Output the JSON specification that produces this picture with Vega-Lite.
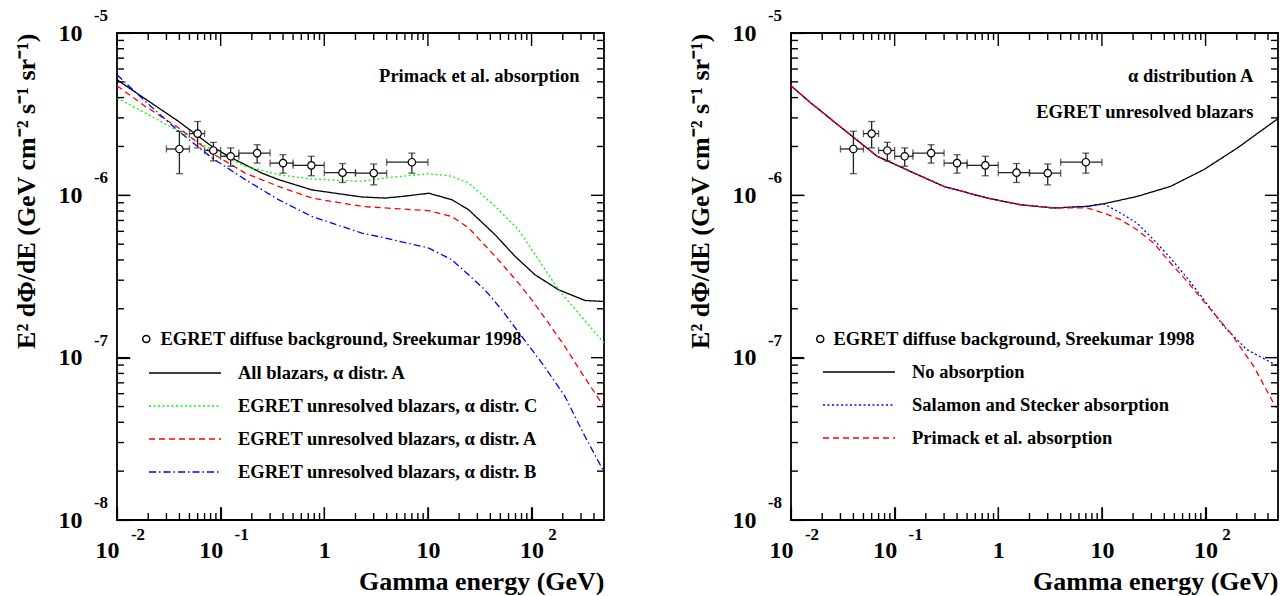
{
  "$schema": "https://vega.github.io/schema/vega-lite/v6.json",
  "padding": {"left": 12, "top": 6, "right": 5, "bottom": 0},
  "background": "white",
  "config": {
    "font": "Liberation Serif",
    "view": {"stroke": "black", "strokeWidth": 1.8},
    "axis": {"domain": false, "grid": false, "zindex": 1, "labelFont": "Liberation Serif", "labelFontWeight": "bold", "labelFontSize": 24, "labelColor": "black", "tickColor": "black", "tickWidth": 1.2, "titleFont": "Liberation Serif", "titleFontWeight": "bold", "titleFontSize": 26, "titleColor": "black", "labelOverlap": false, "labelFlush": false},
    "legend": {"labelFont": "Liberation Serif", "labelFontWeight": "bold", "labelFontSize": 18.5, "labelColor": "black", "labelLimit": 800, "padding": 0},
    "text": {"font": "Liberation Serif", "fontWeight": "bold", "color": "black"}
  },
  "datasets": {
    "egret": [
      {"src": "EGRET diffuse background, Sreekumar 1998", "x": 0.04, "xlo": 0.03, "xhi": 0.05, "y": 1.93e-6, "ylo": 1.36e-6, "yhi": 2.48e-6},
      {"src": "EGRET diffuse background, Sreekumar 1998", "x": 0.06, "xlo": 0.05, "xhi": 0.07, "y": 2.40e-6, "ylo": 1.96e-6, "yhi": 2.85e-6},
      {"src": "EGRET diffuse background, Sreekumar 1998", "x": 0.085, "xlo": 0.07, "xhi": 0.10, "y": 1.89e-6, "ylo": 1.63e-6, "yhi": 2.12e-6},
      {"src": "EGRET diffuse background, Sreekumar 1998", "x": 0.125, "xlo": 0.10, "xhi": 0.15, "y": 1.74e-6, "ylo": 1.51e-6, "yhi": 1.96e-6},
      {"src": "EGRET diffuse background, Sreekumar 1998", "x": 0.225, "xlo": 0.15, "xhi": 0.30, "y": 1.82e-6, "ylo": 1.58e-6, "yhi": 2.05e-6},
      {"src": "EGRET diffuse background, Sreekumar 1998", "x": 0.40, "xlo": 0.30, "xhi": 0.50, "y": 1.58e-6, "ylo": 1.37e-6, "yhi": 1.78e-6},
      {"src": "EGRET diffuse background, Sreekumar 1998", "x": 0.75, "xlo": 0.50, "xhi": 1.0, "y": 1.53e-6, "ylo": 1.32e-6, "yhi": 1.74e-6},
      {"src": "EGRET diffuse background, Sreekumar 1998", "x": 1.5, "xlo": 1.0, "xhi": 2.0, "y": 1.38e-6, "ylo": 1.20e-6, "yhi": 1.57e-6},
      {"src": "EGRET diffuse background, Sreekumar 1998", "x": 3.0, "xlo": 2.0, "xhi": 4.0, "y": 1.37e-6, "ylo": 1.16e-6, "yhi": 1.56e-6},
      {"src": "EGRET diffuse background, Sreekumar 1998", "x": 7.0, "xlo": 4.0, "xhi": 10.0, "y": 1.60e-6, "ylo": 1.37e-6, "yhi": 1.82e-6}
    ],
    "xt": [
      {"v": 0.01, "k": "major"}, {"v": 0.02, "k": "minor"}, {"v": 0.03, "k": "minor"}, {"v": 0.04, "k": "minor"}, {"v": 0.05, "k": "minor"}, {"v": 0.06, "k": "minor"}, {"v": 0.07, "k": "minor"}, {"v": 0.08, "k": "minor"}, {"v": 0.09, "k": "minor"},
      {"v": 0.1, "k": "major"}, {"v": 0.2, "k": "minor"}, {"v": 0.3, "k": "minor"}, {"v": 0.4, "k": "minor"}, {"v": 0.5, "k": "minor"}, {"v": 0.6, "k": "minor"}, {"v": 0.7, "k": "minor"}, {"v": 0.8, "k": "minor"}, {"v": 0.9, "k": "minor"},
      {"v": 1, "k": "major"}, {"v": 2, "k": "minor"}, {"v": 3, "k": "minor"}, {"v": 4, "k": "minor"}, {"v": 5, "k": "minor"}, {"v": 6, "k": "minor"}, {"v": 7, "k": "minor"}, {"v": 8, "k": "minor"}, {"v": 9, "k": "minor"},
      {"v": 10, "k": "major"}, {"v": 20, "k": "minor"}, {"v": 30, "k": "minor"}, {"v": 40, "k": "minor"}, {"v": 50, "k": "minor"}, {"v": 60, "k": "minor"}, {"v": 70, "k": "minor"}, {"v": 80, "k": "minor"}, {"v": 90, "k": "minor"},
      {"v": 100, "k": "major"}, {"v": 200, "k": "minor"}, {"v": 300, "k": "minor"}, {"v": 400, "k": "minor"}
    ],
    "yt": [
      {"v": 1e-8, "k": "major"}, {"v": 2e-8, "k": "minor"}, {"v": 3e-8, "k": "minor"}, {"v": 4e-8, "k": "minor"}, {"v": 5e-8, "k": "minor"}, {"v": 6e-8, "k": "minor"}, {"v": 7e-8, "k": "minor"}, {"v": 8e-8, "k": "minor"}, {"v": 9e-8, "k": "minor"},
      {"v": 1e-7, "k": "major"}, {"v": 2e-7, "k": "minor"}, {"v": 3e-7, "k": "minor"}, {"v": 4e-7, "k": "minor"}, {"v": 5e-7, "k": "minor"}, {"v": 6e-7, "k": "minor"}, {"v": 7e-7, "k": "minor"}, {"v": 8e-7, "k": "minor"}, {"v": 9e-7, "k": "minor"},
      {"v": 1e-6, "k": "major"}, {"v": 2e-6, "k": "minor"}, {"v": 3e-6, "k": "minor"}, {"v": 4e-6, "k": "minor"}, {"v": 5e-6, "k": "minor"}, {"v": 6e-6, "k": "minor"}, {"v": 7e-6, "k": "minor"}, {"v": 8e-6, "k": "minor"}, {"v": 9e-6, "k": "minor"},
      {"v": 1e-5, "k": "major"}
    ],
    "curvesL": [
      {"s": "All blazars, α distr. A", "E": 0.01, "F": 5.15e-6},
      {"s": "All blazars, α distr. A", "E": 0.0188, "F": 3.92e-6},
      {"s": "All blazars, α distr. A", "E": 0.0394, "F": 2.85e-6},
      {"s": "All blazars, α distr. A", "E": 0.0824, "F": 2.00e-6},
      {"s": "All blazars, α distr. A", "E": 0.119, "F": 1.74e-6},
      {"s": "All blazars, α distr. A", "E": 0.25, "F": 1.37e-6},
      {"s": "All blazars, α distr. A", "E": 0.362, "F": 1.25e-6},
      {"s": "All blazars, α distr. A", "E": 0.759, "F": 1.08e-6},
      {"s": "All blazars, α distr. A", "E": 2.30, "F": 9.77e-7},
      {"s": "All blazars, α distr. A", "E": 3.86, "F": 9.62e-7},
      {"s": "All blazars, α distr. A", "E": 5.6, "F": 9.84e-7},
      {"s": "All blazars, α distr. A", "E": 10.2, "F": 1.03e-6},
      {"s": "All blazars, α distr. A", "E": 17.0, "F": 9.40e-7},
      {"s": "All blazars, α distr. A", "E": 24.7, "F": 8.15e-7},
      {"s": "All blazars, α distr. A", "E": 44.6, "F": 5.71e-7},
      {"s": "All blazars, α distr. A", "E": 69.3, "F": 4.21e-7},
      {"s": "All blazars, α distr. A", "E": 108, "F": 3.24e-7},
      {"s": "All blazars, α distr. A", "E": 182, "F": 2.62e-7},
      {"s": "All blazars, α distr. A", "E": 328, "F": 2.25e-7},
      {"s": "All blazars, α distr. A", "E": 500, "F": 2.22e-7},
      {"s": "EGRET unresolved blazars, α distr. C", "E": 0.01, "F": 3.98e-6},
      {"s": "EGRET unresolved blazars, α distr. C", "E": 0.0188, "F": 3.21e-6},
      {"s": "EGRET unresolved blazars, α distr. C", "E": 0.0394, "F": 2.48e-6},
      {"s": "EGRET unresolved blazars, α distr. C", "E": 0.0824, "F": 1.91e-6},
      {"s": "EGRET unresolved blazars, α distr. C", "E": 0.173, "F": 1.51e-6},
      {"s": "EGRET unresolved blazars, α distr. C", "E": 0.362, "F": 1.34e-6},
      {"s": "EGRET unresolved blazars, α distr. C", "E": 0.759, "F": 1.26e-6},
      {"s": "EGRET unresolved blazars, α distr. C", "E": 2.30, "F": 1.22e-6},
      {"s": "EGRET unresolved blazars, α distr. C", "E": 3.86, "F": 1.28e-6},
      {"s": "EGRET unresolved blazars, α distr. C", "E": 10.2, "F": 1.36e-6},
      {"s": "EGRET unresolved blazars, α distr. C", "E": 17.0, "F": 1.31e-6},
      {"s": "EGRET unresolved blazars, α distr. C", "E": 24.7, "F": 1.19e-6},
      {"s": "EGRET unresolved blazars, α distr. C", "E": 44.6, "F": 8.55e-7},
      {"s": "EGRET unresolved blazars, α distr. C", "E": 74.8, "F": 6.14e-7},
      {"s": "EGRET unresolved blazars, α distr. C", "E": 117, "F": 4.01e-7},
      {"s": "EGRET unresolved blazars, α distr. C", "E": 182, "F": 2.62e-7},
      {"s": "EGRET unresolved blazars, α distr. C", "E": 284, "F": 1.88e-7},
      {"s": "EGRET unresolved blazars, α distr. C", "E": 500, "F": 1.23e-7},
      {"s": "EGRET unresolved blazars, α distr. A", "E": 0.01, "F": 4.73e-6},
      {"s": "EGRET unresolved blazars, α distr. A", "E": 0.0188, "F": 3.53e-6},
      {"s": "EGRET unresolved blazars, α distr. A", "E": 0.0394, "F": 2.60e-6},
      {"s": "EGRET unresolved blazars, α distr. A", "E": 0.0824, "F": 1.82e-6},
      {"s": "EGRET unresolved blazars, α distr. A", "E": 0.173, "F": 1.37e-6},
      {"s": "EGRET unresolved blazars, α distr. A", "E": 0.362, "F": 1.135e-6},
      {"s": "EGRET unresolved blazars, α distr. A", "E": 0.759, "F": 9.62e-7},
      {"s": "EGRET unresolved blazars, α distr. A", "E": 2.30, "F": 8.55e-7},
      {"s": "EGRET unresolved blazars, α distr. A", "E": 3.86, "F": 8.36e-7},
      {"s": "EGRET unresolved blazars, α distr. A", "E": 10.2, "F": 8.04e-7},
      {"s": "EGRET unresolved blazars, α distr. A", "E": 17.0, "F": 7.41e-7},
      {"s": "EGRET unresolved blazars, α distr. A", "E": 24.7, "F": 6.30e-7},
      {"s": "EGRET unresolved blazars, α distr. A", "E": 44.6, "F": 4.21e-7},
      {"s": "EGRET unresolved blazars, α distr. A", "E": 74.8, "F": 2.88e-7},
      {"s": "EGRET unresolved blazars, α distr. A", "E": 100, "F": 2.28e-7},
      {"s": "EGRET unresolved blazars, α distr. A", "E": 146, "F": 1.63e-7},
      {"s": "EGRET unresolved blazars, α distr. A", "E": 210, "F": 1.17e-7},
      {"s": "EGRET unresolved blazars, α distr. A", "E": 305, "F": 8.04e-8},
      {"s": "EGRET unresolved blazars, α distr. A", "E": 500, "F": 4.98e-8},
      {"s": "EGRET unresolved blazars, α distr. B", "E": 0.01, "F": 5.53e-6},
      {"s": "EGRET unresolved blazars, α distr. B", "E": 0.0188, "F": 3.79e-6},
      {"s": "EGRET unresolved blazars, α distr. B", "E": 0.0394, "F": 2.48e-6},
      {"s": "EGRET unresolved blazars, α distr. B", "E": 0.0824, "F": 1.70e-6},
      {"s": "EGRET unresolved blazars, α distr. B", "E": 0.173, "F": 1.25e-6},
      {"s": "EGRET unresolved blazars, α distr. B", "E": 0.362, "F": 9.40e-7},
      {"s": "EGRET unresolved blazars, α distr. B", "E": 0.759, "F": 7.41e-7},
      {"s": "EGRET unresolved blazars, α distr. B", "E": 2.30, "F": 5.86e-7},
      {"s": "EGRET unresolved blazars, α distr. B", "E": 3.86, "F": 5.46e-7},
      {"s": "EGRET unresolved blazars, α distr. B", "E": 10.2, "F": 4.73e-7},
      {"s": "EGRET unresolved blazars, α distr. B", "E": 17.0, "F": 4.01e-7},
      {"s": "EGRET unresolved blazars, α distr. B", "E": 24.7, "F": 3.24e-7},
      {"s": "EGRET unresolved blazars, α distr. B", "E": 35.4, "F": 2.62e-7},
      {"s": "EGRET unresolved blazars, α distr. B", "E": 51.6, "F": 1.97e-7},
      {"s": "EGRET unresolved blazars, α distr. B", "E": 80.5, "F": 1.35e-7},
      {"s": "EGRET unresolved blazars, α distr. B", "E": 126, "F": 9.27e-8},
      {"s": "EGRET unresolved blazars, α distr. B", "E": 210, "F": 5.77e-8},
      {"s": "EGRET unresolved blazars, α distr. B", "E": 328, "F": 3.27e-8},
      {"s": "EGRET unresolved blazars, α distr. B", "E": 500, "F": 1.98e-8}
    ],
    "curvesR": [
      {"s": "No absorption", "E": 0.01, "F": 4.73e-6},
      {"s": "No absorption", "E": 0.0155, "F": 3.71e-6},
      {"s": "No absorption", "E": 0.0324, "F": 2.54e-6},
      {"s": "No absorption", "E": 0.0679, "F": 1.74e-6},
      {"s": "No absorption", "E": 0.143, "F": 1.40e-6},
      {"s": "No absorption", "E": 0.299, "F": 1.135e-6},
      {"s": "No absorption", "E": 0.782, "F": 9.62e-7},
      {"s": "No absorption", "E": 1.64, "F": 8.75e-7},
      {"s": "No absorption", "E": 3.44, "F": 8.36e-7},
      {"s": "No absorption", "E": 7.19, "F": 8.55e-7},
      {"s": "No absorption", "E": 10.4, "F": 8.87e-7},
      {"s": "No absorption", "E": 21.8, "F": 9.84e-7},
      {"s": "No absorption", "E": 45.9, "F": 1.135e-6},
      {"s": "No absorption", "E": 96.2, "F": 1.44e-6},
      {"s": "No absorption", "E": 201, "F": 1.95e-6},
      {"s": "No absorption", "E": 500, "F": 2.97e-6},
      {"s": "Salamon and Stecker absorption", "E": 0.01, "F": 4.73e-6},
      {"s": "Salamon and Stecker absorption", "E": 0.0155, "F": 3.71e-6},
      {"s": "Salamon and Stecker absorption", "E": 0.0324, "F": 2.54e-6},
      {"s": "Salamon and Stecker absorption", "E": 0.0679, "F": 1.74e-6},
      {"s": "Salamon and Stecker absorption", "E": 0.143, "F": 1.40e-6},
      {"s": "Salamon and Stecker absorption", "E": 0.299, "F": 1.135e-6},
      {"s": "Salamon and Stecker absorption", "E": 0.782, "F": 9.62e-7},
      {"s": "Salamon and Stecker absorption", "E": 1.64, "F": 8.75e-7},
      {"s": "Salamon and Stecker absorption", "E": 3.44, "F": 8.36e-7},
      {"s": "Salamon and Stecker absorption", "E": 7.19, "F": 8.55e-7},
      {"s": "Salamon and Stecker absorption", "E": 10.4, "F": 8.87e-7},
      {"s": "Salamon and Stecker absorption", "E": 15.1, "F": 7.78e-7},
      {"s": "Salamon and Stecker absorption", "E": 21.8, "F": 6.75e-7},
      {"s": "Salamon and Stecker absorption", "E": 31.6, "F": 5.32e-7},
      {"s": "Salamon and Stecker absorption", "E": 45.9, "F": 4.11e-7},
      {"s": "Salamon and Stecker absorption", "E": 66.4, "F": 3.09e-7},
      {"s": "Salamon and Stecker absorption", "E": 96.2, "F": 2.28e-7},
      {"s": "Salamon and Stecker absorption", "E": 150, "F": 1.56e-7},
      {"s": "Salamon and Stecker absorption", "E": 251, "F": 1.12e-7},
      {"s": "Salamon and Stecker absorption", "E": 472, "F": 9.04e-8},
      {"s": "Salamon and Stecker absorption", "E": 500, "F": 8.97e-8},
      {"s": "Primack et al. absorption", "E": 0.01, "F": 4.73e-6},
      {"s": "Primack et al. absorption", "E": 0.0155, "F": 3.71e-6},
      {"s": "Primack et al. absorption", "E": 0.0324, "F": 2.54e-6},
      {"s": "Primack et al. absorption", "E": 0.0679, "F": 1.74e-6},
      {"s": "Primack et al. absorption", "E": 0.143, "F": 1.40e-6},
      {"s": "Primack et al. absorption", "E": 0.299, "F": 1.135e-6},
      {"s": "Primack et al. absorption", "E": 0.782, "F": 9.62e-7},
      {"s": "Primack et al. absorption", "E": 1.64, "F": 8.75e-7},
      {"s": "Primack et al. absorption", "E": 3.44, "F": 8.36e-7},
      {"s": "Primack et al. absorption", "E": 7.19, "F": 8.36e-7},
      {"s": "Primack et al. absorption", "E": 10.4, "F": 7.78e-7},
      {"s": "Primack et al. absorption", "E": 15.1, "F": 7.08e-7},
      {"s": "Primack et al. absorption", "E": 21.8, "F": 6.14e-7},
      {"s": "Primack et al. absorption", "E": 31.6, "F": 5.08e-7},
      {"s": "Primack et al. absorption", "E": 45.9, "F": 3.83e-7},
      {"s": "Primack et al. absorption", "E": 66.4, "F": 2.95e-7},
      {"s": "Primack et al. absorption", "E": 96.2, "F": 2.22e-7},
      {"s": "Primack et al. absorption", "E": 174, "F": 1.42e-7},
      {"s": "Primack et al. absorption", "E": 292, "F": 8.83e-8},
      {"s": "Primack et al. absorption", "E": 472, "F": 5.0e-8},
      {"s": "Primack et al. absorption", "E": 500, "F": 4.9e-8}
    ],
    "notesL": [
      {"t": "Primack et al. absorption", "x": 290, "y": 5.4e-6}
    ],
    "notesR": [
      {"t": "α distribution A", "x": 290, "y": 5.4e-6},
      {"t": "EGRET unresolved blazars", "x": 290, "y": 3.25e-6}
    ],
    "yexp": [
      {"v": 1e-5, "t": "-5"}, {"v": 1e-6, "t": "-6"}, {"v": 1e-7, "t": "-7"}, {"v": 1e-8, "t": "-8"}
    ],
    "xexp": [
      {"v": 0.01, "t": "-2"}, {"v": 0.1, "t": "-1"}, {"v": 100, "t": "2"}
    ]
  },
  "spacing": 78,
  "resolve": {"scale": {"color": "independent", "strokeDash": "independent", "shape": "independent"}},
  "hconcat": [
    {
      "width": 487, "height": 487,
      "layer": [
        {
          "data": {"name": "curvesL"},
          "mark": {"type": "line", "strokeWidth": 1.3},
          "encoding": {
            "x": {"field": "E", "type": "quantitative", "scale": {"type": "log", "domain": [0.01, 500], "nice": false},
              "axis": {"orient": "bottom", "values": [0.01, 0.1, 1, 10, 100], "offset": -13, "tickSize": 13,
                "labelExpr": "datum.value == 1 ? '1' : '10'",
                "labelOffset": {"condition": {"test": "datum.value < 0.5", "value": -10}, "value": 0},
                "labelPadding": 18, "labelBaseline": "top",
                "title": "Gamma energy (GeV)", "titleAnchor": "end", "titlePadding": 6}},
            "y": {"field": "F", "type": "quantitative", "scale": {"type": "log", "domain": [1e-8, 1e-5], "nice": false},
              "axis": {"orient": "left", "values": [1e-8, 1e-7, 1e-6, 1e-5], "offset": -13, "tickSize": 13,
                "labelExpr": "'10'", "labelPadding": 35, "labelBaseline": "middle",
                "title": "E² dΦ/dE (GeV cm⁻² s⁻¹ sr⁻¹)", "titleAnchor": "end", "titlePadding": 19, "titleFontSize": 26}},
            "color": {"field": "s", "type": "nominal",
              "scale": {"domain": ["All blazars, α distr. A", "EGRET unresolved blazars, α distr. C", "EGRET unresolved blazars, α distr. A", "EGRET unresolved blazars, α distr. B"], "range": ["#000000", "#00ff00", "#ff0000", "#0000ff"]},
              "legend": {"orient": "none", "legendX": 31, "legendY": 330, "title": null, "symbolType": "stroke", "symbolSize": 5184, "symbolStrokeWidth": 1.3, "labelOffset": 16, "clipHeight": 20, "rowPadding": 13, "labelFont": "Liberation Serif", "labelFontWeight": "bold"}},
            "strokeDash": {"field": "s", "type": "nominal",
              "scale": {"domain": ["All blazars, α distr. A", "EGRET unresolved blazars, α distr. C", "EGRET unresolved blazars, α distr. A", "EGRET unresolved blazars, α distr. B"], "range": [[1, 0], [2, 2.5], [6, 4], [7, 3, 1.5, 3]]},
              "legend": {"orient": "none", "legendX": 31, "legendY": 330, "title": null, "symbolType": "stroke", "symbolSize": 5184, "symbolStrokeWidth": 1.3, "labelOffset": 16, "clipHeight": 20, "rowPadding": 13, "labelFont": "Liberation Serif", "labelFontWeight": "bold"}}
          }
        },
        {
          "data": {"name": "egret"},
          "mark": {"type": "rule", "color": "#222222", "strokeWidth": 1.3},
          "encoding": {"x": {"field": "xlo", "type": "quantitative"}, "x2": {"field": "xhi"}, "y": {"field": "y", "type": "quantitative"}}
        },
        {
          "data": {"name": "egret"},
          "mark": {"type": "rule", "color": "#222222", "strokeWidth": 1.3},
          "encoding": {"x": {"field": "x", "type": "quantitative"}, "y": {"field": "ylo", "type": "quantitative"}, "y2": {"field": "yhi"}}
        },
        {
          "data": {"name": "egret"},
          "transform": [{"fold": ["xlo", "xhi"], "as": ["k", "xe"]}],
          "mark": {"type": "tick", "orient": "vertical", "size": 7, "thickness": 1.3, "color": "#222222"},
          "encoding": {"x": {"field": "xe", "type": "quantitative"}, "y": {"field": "y", "type": "quantitative"}}
        },
        {
          "data": {"name": "egret"},
          "transform": [{"fold": ["ylo", "yhi"], "as": ["k", "ye"]}],
          "mark": {"type": "tick", "orient": "horizontal", "size": 7, "thickness": 1.3, "color": "#222222"},
          "encoding": {"x": {"field": "x", "type": "quantitative"}, "y": {"field": "ye", "type": "quantitative"}}
        },
        {
          "data": {"name": "egret"},
          "mark": {"type": "point", "filled": true, "fill": "white", "stroke": "black", "strokeWidth": 1.2, "size": 55, "opacity": 1},
          "encoding": {
            "x": {"field": "x", "type": "quantitative"},
            "y": {"field": "y", "type": "quantitative"},
            "shape": {"field": "src", "type": "nominal", "scale": {"range": ["circle"]},
              "legend": {"orient": "none", "legendX": 20, "legendY": 296, "title": null, "symbolType": "circle", "symbolSize": 50, "labelOffset": 5, "clipHeight": 20, "labelFont": "Liberation Serif", "labelFontWeight": "bold",
                "encode": {"symbols": {"update": {"fill": {"value": "white"}, "stroke": {"value": "black"}, "strokeWidth": {"value": 1.2}, "opacity": {"value": 1}}}}}}
          }
        },
        {
          "data": {"name": "notesL"},
          "mark": {"type": "text", "align": "right", "baseline": "middle", "fontSize": 18.5, "font": "Liberation Serif", "fontWeight": "bold"},
          "encoding": {"x": {"field": "x", "type": "quantitative"}, "y": {"field": "y", "type": "quantitative"}, "text": {"field": "t"}}
        },
        {
          "data": {"name": "yexp"},
          "mark": {"type": "text", "align": "center", "baseline": "middle", "fontSize": 17, "font": "Liberation Serif", "fontWeight": "bold", "dx": -16, "dy": -17},
          "encoding": {"x": {"datum": 0.01, "type": "quantitative"}, "y": {"field": "v", "type": "quantitative"}, "text": {"field": "t"}}
        },
        {
          "data": {"name": "xexp"},
          "mark": {"type": "text", "align": "center", "baseline": "middle", "fontSize": 17, "font": "Liberation Serif", "fontWeight": "bold", "dx": 21, "dy": 15},
          "encoding": {"x": {"field": "v", "type": "quantitative"}, "y": {"datum": 1e-8, "type": "quantitative"}, "text": {"field": "t"}}
        },
        {"data": {"name": "xt"}, "transform": [{"filter": "datum.k == 'major'"}], "mark": {"type": "rule", "color": "#000000", "strokeWidth": 1.4, "opacity": 1},
          "encoding": {"x": {"field": "v", "type": "quantitative"}, "y": {"datum": 1e-8, "type": "quantitative"}, "y2": {"datum": 1.2e-8}}},
        {"data": {"name": "xt"}, "transform": [{"filter": "datum.k == 'minor'"}], "mark": {"type": "rule", "color": "#000000", "strokeWidth": 1.4, "opacity": 1},
          "encoding": {"x": {"field": "v", "type": "quantitative"}, "y": {"datum": 1e-8, "type": "quantitative"}, "y2": {"datum": 1.104e-8}}},
        {"data": {"name": "xt"}, "transform": [{"filter": "datum.k == 'major'"}], "mark": {"type": "rule", "color": "#000000", "strokeWidth": 1.4, "opacity": 1},
          "encoding": {"x": {"field": "v", "type": "quantitative"}, "y": {"datum": 1e-5, "type": "quantitative"}, "y2": {"datum": 8.32e-6}}},
        {"data": {"name": "xt"}, "transform": [{"filter": "datum.k == 'minor'"}], "mark": {"type": "rule", "color": "#000000", "strokeWidth": 1.4, "opacity": 1},
          "encoding": {"x": {"field": "v", "type": "quantitative"}, "y": {"datum": 1e-5, "type": "quantitative"}, "y2": {"datum": 9.06e-6}}},
        {"data": {"name": "yt"}, "transform": [{"filter": "datum.k == 'major'"}], "mark": {"type": "rule", "color": "#000000", "strokeWidth": 1.4, "opacity": 1},
          "encoding": {"y": {"field": "v", "type": "quantitative"}, "x": {"datum": 0.01, "type": "quantitative"}, "x2": {"datum": 0.01335}}},
        {"data": {"name": "yt"}, "transform": [{"filter": "datum.k == 'minor'"}], "mark": {"type": "rule", "color": "#000000", "strokeWidth": 1.4, "opacity": 1},
          "encoding": {"y": {"field": "v", "type": "quantitative"}, "x": {"datum": 0.01, "type": "quantitative"}, "x2": {"datum": 0.01168}}},
        {"data": {"name": "yt"}, "transform": [{"filter": "datum.k == 'major'"}], "mark": {"type": "rule", "color": "#000000", "strokeWidth": 1.4, "opacity": 1},
          "encoding": {"y": {"field": "v", "type": "quantitative"}, "x": {"datum": 500, "type": "quantitative"}, "x2": {"datum": 374.5}}},
        {"data": {"name": "yt"}, "transform": [{"filter": "datum.k == 'minor'"}], "mark": {"type": "rule", "color": "#000000", "strokeWidth": 1.4, "opacity": 1},
          "encoding": {"y": {"field": "v", "type": "quantitative"}, "x": {"datum": 500, "type": "quantitative"}, "x2": {"datum": 428}}}
      ]
    },
    {
      "width": 487, "height": 487,
      "layer": [
        {
          "data": {"name": "curvesR"},
          "mark": {"type": "line", "strokeWidth": 1.3},
          "encoding": {
            "x": {"field": "E", "type": "quantitative", "scale": {"type": "log", "domain": [0.01, 500], "nice": false},
              "axis": {"orient": "bottom", "values": [0.01, 0.1, 1, 10, 100], "offset": -13, "tickSize": 13,
                "labelExpr": "datum.value == 1 ? '1' : '10'",
                "labelOffset": {"condition": {"test": "datum.value < 0.5", "value": -10}, "value": 0},
                "labelPadding": 18, "labelBaseline": "top",
                "title": "Gamma energy (GeV)", "titleAnchor": "end", "titlePadding": 6}},
            "y": {"field": "F", "type": "quantitative", "scale": {"type": "log", "domain": [1e-8, 1e-5], "nice": false},
              "axis": {"orient": "left", "values": [1e-8, 1e-7, 1e-6, 1e-5], "offset": -13, "tickSize": 13,
                "labelExpr": "'10'", "labelPadding": 35, "labelBaseline": "middle",
                "title": "E² dΦ/dE (GeV cm⁻² s⁻¹ sr⁻¹)", "titleAnchor": "end", "titlePadding": 19, "titleFontSize": 26}},
            "color": {"field": "s", "type": "nominal",
              "scale": {"domain": ["No absorption", "Salamon and Stecker absorption", "Primack et al. absorption"], "range": ["#000000", "#0000ff", "#ff0000"]},
              "legend": {"orient": "none", "legendX": 31, "legendY": 329, "title": null, "symbolType": "stroke", "symbolSize": 5184, "symbolStrokeWidth": 1.3, "labelOffset": 16, "clipHeight": 20, "rowPadding": 13, "labelFont": "Liberation Serif", "labelFontWeight": "bold"}},
            "strokeDash": {"field": "s", "type": "nominal",
              "scale": {"domain": ["No absorption", "Salamon and Stecker absorption", "Primack et al. absorption"], "range": [[1, 0], [2, 2.5], [6, 4]]},
              "legend": {"orient": "none", "legendX": 31, "legendY": 329, "title": null, "symbolType": "stroke", "symbolSize": 5184, "symbolStrokeWidth": 1.3, "labelOffset": 16, "clipHeight": 20, "rowPadding": 13, "labelFont": "Liberation Serif", "labelFontWeight": "bold"}}
          }
        },
        {
          "data": {"name": "egret"},
          "mark": {"type": "rule", "color": "#222222", "strokeWidth": 1.3},
          "encoding": {"x": {"field": "xlo", "type": "quantitative"}, "x2": {"field": "xhi"}, "y": {"field": "y", "type": "quantitative"}}
        },
        {
          "data": {"name": "egret"},
          "mark": {"type": "rule", "color": "#222222", "strokeWidth": 1.3},
          "encoding": {"x": {"field": "x", "type": "quantitative"}, "y": {"field": "ylo", "type": "quantitative"}, "y2": {"field": "yhi"}}
        },
        {
          "data": {"name": "egret"},
          "transform": [{"fold": ["xlo", "xhi"], "as": ["k", "xe"]}],
          "mark": {"type": "tick", "orient": "vertical", "size": 7, "thickness": 1.3, "color": "#222222"},
          "encoding": {"x": {"field": "xe", "type": "quantitative"}, "y": {"field": "y", "type": "quantitative"}}
        },
        {
          "data": {"name": "egret"},
          "transform": [{"fold": ["ylo", "yhi"], "as": ["k", "ye"]}],
          "mark": {"type": "tick", "orient": "horizontal", "size": 7, "thickness": 1.3, "color": "#222222"},
          "encoding": {"x": {"field": "x", "type": "quantitative"}, "y": {"field": "ye", "type": "quantitative"}}
        },
        {
          "data": {"name": "egret"},
          "mark": {"type": "point", "filled": true, "fill": "white", "stroke": "black", "strokeWidth": 1.2, "size": 55, "opacity": 1},
          "encoding": {
            "x": {"field": "x", "type": "quantitative"},
            "y": {"field": "y", "type": "quantitative"},
            "shape": {"field": "src", "type": "nominal", "scale": {"range": ["circle"]},
              "legend": {"orient": "none", "legendX": 20, "legendY": 296, "title": null, "symbolType": "circle", "symbolSize": 50, "labelOffset": 4, "clipHeight": 20, "labelFont": "Liberation Serif", "labelFontWeight": "bold",
                "encode": {"symbols": {"update": {"fill": {"value": "white"}, "stroke": {"value": "black"}, "strokeWidth": {"value": 1.2}, "opacity": {"value": 1}}}}}}
          }
        },
        {
          "data": {"name": "notesR"},
          "mark": {"type": "text", "align": "right", "baseline": "middle", "fontSize": 18.5, "font": "Liberation Serif", "fontWeight": "bold"},
          "encoding": {"x": {"field": "x", "type": "quantitative"}, "y": {"field": "y", "type": "quantitative"}, "text": {"field": "t"}}
        },
        {
          "data": {"name": "yexp"},
          "mark": {"type": "text", "align": "center", "baseline": "middle", "fontSize": 17, "font": "Liberation Serif", "fontWeight": "bold", "dx": -16, "dy": -17},
          "encoding": {"x": {"datum": 0.01, "type": "quantitative"}, "y": {"field": "v", "type": "quantitative"}, "text": {"field": "t"}}
        },
        {
          "data": {"name": "xexp"},
          "mark": {"type": "text", "align": "center", "baseline": "middle", "fontSize": 17, "font": "Liberation Serif", "fontWeight": "bold", "dx": 21, "dy": 15},
          "encoding": {"x": {"field": "v", "type": "quantitative"}, "y": {"datum": 1e-8, "type": "quantitative"}, "text": {"field": "t"}}
        },
        {"data": {"name": "xt"}, "transform": [{"filter": "datum.k == 'major'"}], "mark": {"type": "rule", "color": "#000000", "strokeWidth": 1.4, "opacity": 1},
          "encoding": {"x": {"field": "v", "type": "quantitative"}, "y": {"datum": 1e-8, "type": "quantitative"}, "y2": {"datum": 1.2e-8}}},
        {"data": {"name": "xt"}, "transform": [{"filter": "datum.k == 'minor'"}], "mark": {"type": "rule", "color": "#000000", "strokeWidth": 1.4, "opacity": 1},
          "encoding": {"x": {"field": "v", "type": "quantitative"}, "y": {"datum": 1e-8, "type": "quantitative"}, "y2": {"datum": 1.104e-8}}},
        {"data": {"name": "xt"}, "transform": [{"filter": "datum.k == 'major'"}], "mark": {"type": "rule", "color": "#000000", "strokeWidth": 1.4, "opacity": 1},
          "encoding": {"x": {"field": "v", "type": "quantitative"}, "y": {"datum": 1e-5, "type": "quantitative"}, "y2": {"datum": 8.32e-6}}},
        {"data": {"name": "xt"}, "transform": [{"filter": "datum.k == 'minor'"}], "mark": {"type": "rule", "color": "#000000", "strokeWidth": 1.4, "opacity": 1},
          "encoding": {"x": {"field": "v", "type": "quantitative"}, "y": {"datum": 1e-5, "type": "quantitative"}, "y2": {"datum": 9.06e-6}}},
        {"data": {"name": "yt"}, "transform": [{"filter": "datum.k == 'major'"}], "mark": {"type": "rule", "color": "#000000", "strokeWidth": 1.4, "opacity": 1},
          "encoding": {"y": {"field": "v", "type": "quantitative"}, "x": {"datum": 0.01, "type": "quantitative"}, "x2": {"datum": 0.01335}}},
        {"data": {"name": "yt"}, "transform": [{"filter": "datum.k == 'minor'"}], "mark": {"type": "rule", "color": "#000000", "strokeWidth": 1.4, "opacity": 1},
          "encoding": {"y": {"field": "v", "type": "quantitative"}, "x": {"datum": 0.01, "type": "quantitative"}, "x2": {"datum": 0.01168}}},
        {"data": {"name": "yt"}, "transform": [{"filter": "datum.k == 'major'"}], "mark": {"type": "rule", "color": "#000000", "strokeWidth": 1.4, "opacity": 1},
          "encoding": {"y": {"field": "v", "type": "quantitative"}, "x": {"datum": 500, "type": "quantitative"}, "x2": {"datum": 374.5}}},
        {"data": {"name": "yt"}, "transform": [{"filter": "datum.k == 'minor'"}], "mark": {"type": "rule", "color": "#000000", "strokeWidth": 1.4, "opacity": 1},
          "encoding": {"y": {"field": "v", "type": "quantitative"}, "x": {"datum": 500, "type": "quantitative"}, "x2": {"datum": 428}}}
      ]
    }
  ]
}
